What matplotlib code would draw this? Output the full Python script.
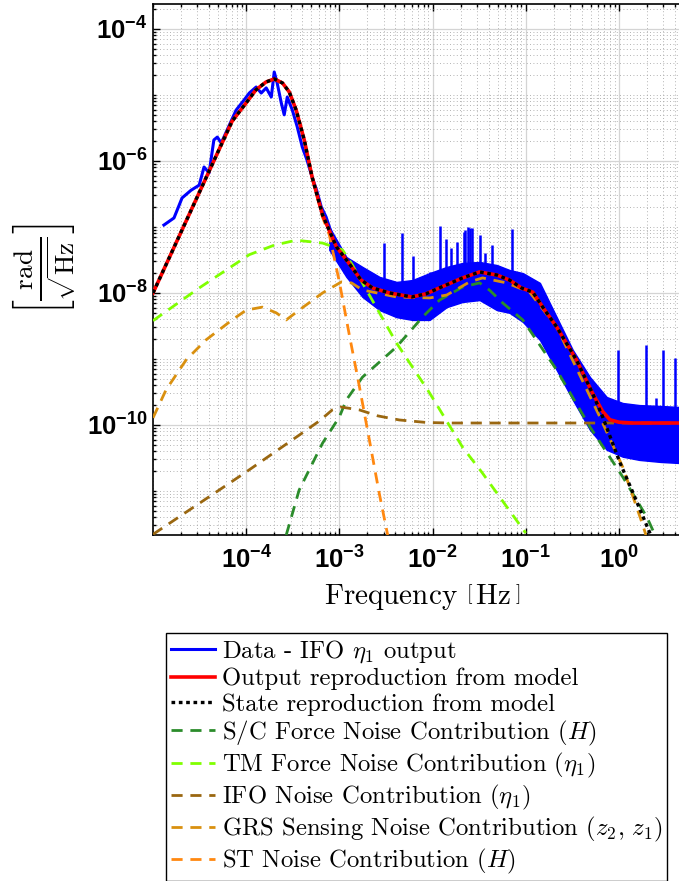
import numpy as np
import matplotlib
matplotlib.use("Agg")
import matplotlib.pyplot as plt
import matplotlib.ticker as ticker

# ---- values (Hz, rad/sqrt(Hz)) ----
data_f = [1.31e-5, 1.68e-5, 2.05e-5, 2.56e-5, 3.13e-5, 3.53e-5, 4.0e-5, 4.5e-5, 4.9e-5,
          5.4e-5, 6.6e-5, 7.8e-5, 9.5e-5, 1.08e-4, 1.28e-4, 1.45e-4, 1.64e-4, 1.86e-4,
          2.0e-4, 2.15e-4, 2.38e-4, 2.56e-4, 2.76e-4, 3.13e-4, 3.53e-4, 4.0e-4, 4.5e-4,
          5.1e-4, 5.7e-4, 6.4e-4, 7.2e-4, 8.2e-4, 9.3e-4]
data_y = [1.07e-7, 1.37e-7, 2.75e-7, 3.6e-7, 4.3e-7, 8.1e-7, 6.6e-7, 2.08e-6, 2.3e-6,
          1.87e-6, 3.5e-6, 5.9e-6, 8.4e-6, 1.07e-5, 1.32e-5, 1.07e-5, 1.28e-5, 9.3e-6,
          2.23e-5, 1.52e-5, 7.6e-6, 5.0e-6, 9.3e-6, 5.9e-6, 3.3e-6, 1.63e-6, 1.03e-6,
          5.7e-7, 3.6e-7, 2.0e-7, 1.42e-7, 8.1e-8, 5.0e-8]

band_f = [7.8e-4, 1.19e-3, 1.77e-3, 2.7e-3, 4.1e-3, 6.1e-3, 9.3e-3, 1.42e-2, 2.1e-2, 3.2e-2,
          4.9e-2, 6.7e-2, 9.3e-2, 1.42e-1, 2.15e-1, 3.2e-1, 4.9e-1, 7.4e-1, 1.1, 1.66, 2.8, 4.5]
band_hi = [1.0e-7, 3.5e-8, 2.48e-8, 1.75e-8, 1.47e-8, 1.57e-8, 2.0e-8, 2.48e-8, 2.85e-8, 2.95e-8,
           2.65e-8, 2.23e-8, 2.0e-8, 1.42e-8, 4.3e-9, 1.37e-9, 5.3e-10, 2.65e-10, 2.15e-10,
           2.0e-10, 1.94e-10, 1.87e-10]
band_lo = [4.5e-8, 1.75e-8, 8.7e-9, 5.5e-9, 4.3e-9, 3.9e-9, 3.9e-9, 6.1e-9, 7.3e-9, 7.8e-9,
           5.5e-9, 5.0e-9, 3.65e-9, 1.94e-9, 6.8e-10, 2.4e-10, 8.4e-11, 4.2e-11, 3.3e-11,
           2.95e-11, 2.75e-11, 2.65e-11]

spike_f = [3.05e-3, 4.65e-3, 6.1e-3, 9.3e-3, 1.19e-2, 1.38e-2, 1.57e-2, 1.81e-2, 2.15e-2,
           2.25e-2, 2.38e-2, 2.5e-2, 2.62e-2, 3.2e-2, 3.7e-2, 4.4e-2, 7.1e-2,
           0.98, 1.95, 2.5, 2.97, 4.0]
spike_top = [5.7e-8, 8.1e-8, 3.6e-8, 2.08e-8, 1.03e-7, 6.6e-8, 4.8e-8, 5.9e-8, 8.4e-8,
             9.0e-8, 1.0e-7, 9.5e-8, 9.7e-8, 7.6e-8, 4.0e-8, 5.3e-8, 9.3e-8,
             1.37e-9, 1.63e-9, 2.6e-10, 1.37e-9, 1.03e-9]

model_f = [1e-5, 3.13e-5, 7.06e-5, 1e-4, 1.27e-4, 1.63e-4, 2.0e-4, 2.45e-4, 2.9e-4, 3.44e-4,
           4.2e-4, 5.1e-4, 6.6e-4, 9.3e-4, 1.26e-3, 1.71e-3, 2.27e-3, 3.45e-3, 6.0e-3, 8.5e-3,
           1.18e-2, 2.1e-2, 3.2e-2, 4.9e-2, 6.7e-2, 9.0e-2, 1.19e-1, 1.6e-1, 2.15e-1, 3.5e-1, 5.2e-1]
model_y = [1.0e-8, 3.3e-7, 4.0e-6, 7.6e-6, 1.19e-5, 1.57e-5, 1.75e-5, 1.52e-5, 1.11e-5, 5.9e-6,
           2.08e-6, 5.7e-7, 1.52e-7, 5.0e-8, 2.85e-8, 1.57e-8, 1.19e-8, 1.0e-8, 8.7e-9, 9.7e-9,
           1.19e-8, 1.69e-8, 2.08e-8, 1.87e-8, 1.57e-8, 1.19e-8, 1.03e-8, 5.5e-9, 3.05e-9,
           9.7e-10, 3.05e-10]
output_tail_f = [6.7e-1, 8.0e-1, 1.0, 1.4, 4.5]
output_tail_y = [1.6e-10, 1.2e-10, 1.1e-10, 1.07e-10, 1.07e-10]
state_tail_f = [6.7e-1, 1.03, 1.42, 2.15, 2.5]
state_tail_y = [1.32e-10, 2.65e-11, 9.3e-12, 2.3e-12, 1.4e-12]

sc_f = [2.69e-4, 3.7e-4, 6.6e-4, 1.0e-3, 1.19e-3, 1.77e-3, 4.1e-3, 7.8e-3, 1.19e-2, 2.1e-2,
        3.2e-2, 4.1e-2, 5.7e-2, 9.3e-2, 2.15e-1, 4.9e-1, 1.1, 2.0, 2.44]
sc_y = [2.15e-12, 1.03e-11, 5.3e-11, 1.32e-10, 2.4e-10, 5.3e-10, 1.52e-9, 4.3e-9, 7.8e-9, 1.23e-8,
        1.42e-8, 1.1e-8, 7.0e-9, 3.9e-9, 6.8e-10, 9.3e-11, 1.63e-11, 4.0e-12, 2.15e-12]

tm_f = [1.0e-5, 3.13e-5, 1.08e-4, 2.0e-4, 3.45e-4, 6.6e-4, 1.08e-3, 1.38e-3, 1.77e-3, 4.1e-3,
        9.3e-3, 2.1e-2, 3.4e-2, 1.0e-1]
tm_y = [3.8e-9, 1.19e-8, 3.8e-8, 5.3e-8, 6.3e-8, 5.7e-8, 4.5e-8, 2.65e-8, 1.42e-8, 1.75e-9,
        3.05e-10, 4.6e-11, 1.9e-11, 2.3e-12]

ifo_f = [1.0e-5, 1.0e-4, 3.7e-4, 6.1e-4, 8.4e-4, 1.04e-3, 1.64e-3, 2.6e-3, 4.4e-3, 8.6e-3, 1.5e-2, 4.5]
ifo_y = [2.2e-12, 1.94e-11, 7.0e-11, 1.15e-10, 1.69e-10, 1.87e-10, 1.69e-10, 1.37e-10, 1.19e-10,
         1.09e-10, 1.07e-10, 1.07e-10]

grs_f = [1.0e-5, 1.38e-5, 2.27e-5, 3.7e-5, 7.06e-5, 1.0e-4, 1.49e-4, 2.1e-4, 2.69e-4, 3.7e-4,
         6.6e-4, 1.05e-3, 1.35e-3, 1.77e-3, 4.1e-3, 9.3e-3, 1.42e-2, 2.5e-2, 3.44e-2, 6.25e-2,
         1.1e-1, 2.15e-1, 6.25e-1, 1.1, 1.77, 1.95]
grs_y = [1.28e-10, 3.4e-10, 9.7e-10, 1.94e-9, 3.9e-9, 5.5e-9, 6.1e-9, 5.0e-9, 3.9e-9, 5.5e-9,
         1.0e-8, 1.47e-8, 1.42e-8, 1.11e-8, 8.7e-9, 8.4e-9, 9.3e-9, 1.47e-8, 1.69e-8, 1.42e-8,
         1.03e-8, 3.05e-9, 1.32e-10, 2.3e-11, 3.3e-12, 2.15e-12]

st_f = [1e-5, 3.13e-5, 7.06e-5, 1e-4, 1.27e-4, 1.63e-4, 2.0e-4, 2.45e-4, 2.9e-4, 3.44e-4, 4.2e-4,
        5.1e-4, 6.6e-4, 7.8e-4, 1.0e-3, 1.28e-3, 1.63e-3, 2.1e-3, 2.7e-3, 3.3e-3]
st_y = [1.0e-8, 3.3e-7, 4.0e-6, 7.6e-6, 1.19e-5, 1.57e-5, 1.75e-5, 1.52e-5, 1.11e-5, 5.9e-6,
        2.08e-6, 5.7e-7, 1.4e-7, 7.6e-8, 1.47e-8, 2.3e-9, 4.0e-10, 5.9e-11, 8.7e-12, 2.15e-12]

labels = [
    r"Data - IFO $\eta_1$ output",
    "Output reproduction from model",
    "State reproduction from model",
    r"S/C Force Noise Contribution $(H)$",
    r"TM Force Noise Contribution $(\eta_1)$",
    r"IFO Noise Contribution $(\eta_1)$",
    r"GRS Sensing Noise Contribution $(z_2,\, z_1)$",
    r"ST Noise Contribution $(H)$",
]

plt.rcParams["mathtext.fontset"] = "custom"
plt.rcParams["mathtext.rm"] = "Liberation Sans"
plt.rcParams["mathtext.bf"] = "Liberation Sans:bold"
plt.rcParams["mathtext.it"] = "Liberation Sans:italic"

W, H = 679, 881
fig = plt.figure(figsize=(W / 100, H / 100), dpi=100)
ax = fig.add_axes([153 / W, 1 - 535 / H, 526 / W, 531 / H])
ax.set_xscale("log")
ax.set_yscale("log")

DASH = (0, (4, 2.8))

# measured data
blue, = ax.plot(data_f, data_y, color="#0000ff", lw=2.2, zorder=2)
ax.fill_between(band_f, band_lo, band_hi, color="#0000ff", lw=1.0, zorder=2)
lb, lh = np.log10(band_f), np.log10(band_hi)
spike_base = 10 ** np.interp(np.log10(spike_f), lb, lh)
ax.vlines(spike_f, spike_base * 0.8, spike_top, color="#0000ff", lw=1.8, zorder=2)

# noise contributions
sc, = ax.plot(sc_f, sc_y, color="#2b8c2b", lw=2.0, ls=DASH, zorder=3)
tm, = ax.plot(tm_f, tm_y, color="#80ff00", lw=2.0, ls=DASH, zorder=3)
ifo, = ax.plot(ifo_f, ifo_y, color="#9a6710", lw=2.0, ls=DASH, zorder=3)
grs, = ax.plot(grs_f, grs_y, color="#d9900f", lw=2.0, ls=DASH, zorder=3)
st, = ax.plot(st_f, st_y, color="#ff8810", lw=2.0, ls=DASH, zorder=3)

# model reproductions
red, = ax.plot(model_f + output_tail_f, model_y + output_tail_y, color="#ff0000", lw=2.6, zorder=4)
black, = ax.plot(model_f + state_tail_f, model_y + state_tail_y, color="black", lw=2.4,
                 ls=(0, (1.1, 1.1)), zorder=5)

ax.set_xlim(1e-5, 10 ** 0.645)
ax.set_ylim(2.15e-12, 2.39e-4)

ax.xaxis.set_major_locator(ticker.FixedLocator([1e-4, 1e-3, 1e-2, 1e-1, 1e0]))
ax.yaxis.set_major_locator(ticker.FixedLocator([1e-10, 1e-8, 1e-6, 1e-4]))
minor_vals = [m * 10.0 ** k for k in range(-13, 2) for m in range(1, 10)]
ax.xaxis.set_minor_locator(ticker.FixedLocator(minor_vals))
ax.yaxis.set_minor_locator(ticker.FixedLocator(minor_vals))
fmt = ticker.FuncFormatter(lambda v, _: r"$\mathbf{10^{%d}}$" % round(np.log10(v)))
ax.xaxis.set_major_formatter(fmt)
ax.yaxis.set_major_formatter(fmt)
ax.xaxis.set_minor_formatter(ticker.NullFormatter())
ax.yaxis.set_minor_formatter(ticker.NullFormatter())

ax.tick_params(which="both", direction="in", top=True, right=False, width=1.0)
ax.tick_params(which="major", length=5, labelsize=18.5)
ax.tick_params(which="minor", length=2.5)
ax.tick_params(axis="x", which="major", pad=9)
ax.tick_params(axis="y", which="major", pad=4)
ax.spines["right"].set_visible(False)
for s in ("left", "top", "bottom"):
    ax.spines[s].set_linewidth(1.2)

ax.set_axisbelow(True)
ax.grid(True, which="major", color="#d4d4d4", lw=0.9, ls="-")
ax.grid(True, which="minor", color="#9a9a9a", lw=0.6, ls=(0, (1, 3)))

xl = ax.set_xlabel(r"Frequency $\left[\,\mathrm{Hz}\,\right]$", fontsize=21, family="cmr10")
xl.set_math_fontfamily("cm")
ax.xaxis.set_label_coords(0.511, -0.088)
yl = ax.set_ylabel(r"$\left[\frac{\mathrm{rad}}{\sqrt{\mathrm{Hz}}}\right]$", fontsize=28)
yl.set_math_fontfamily("cm")
ax.yaxis.set_label_coords(-0.143, 0.5)

leg = fig.legend([blue, red, black, sc, tm, ifo, grs, st], labels,
                 loc="upper left", bbox_to_anchor=(166 / W, 1 - 633 / H),
                 bbox_transform=fig.transFigure, frameon=True, fancybox=False,
                 edgecolor="black", framealpha=1, borderaxespad=0, borderpad=0.2,
                 labelspacing=0.12, handlelength=1.8, handletextpad=0.25,
                 prop={"family": "cmr10", "size": 17.8})
leg.get_frame().set_linewidth(1.0)
for t in leg.get_texts():
    t.set_math_fontfamily("cm")

fig.savefig("out.png", dpi=100)
